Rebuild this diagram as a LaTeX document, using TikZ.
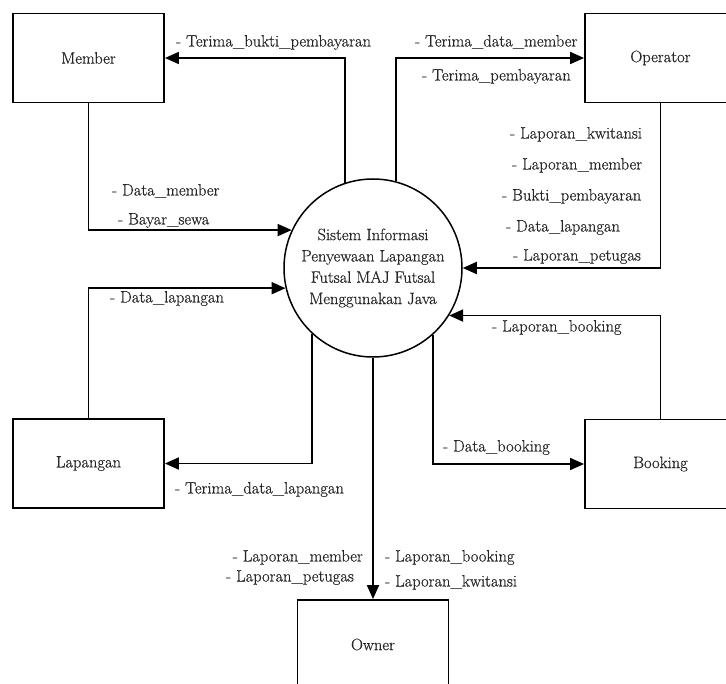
\documentclass[tikz,border=0pt]{standalone}
\usepackage{fontspec}
\newfontfamily\dfdfont{Latin Modern Roman}[FakeBold=0.6]
\usetikzlibrary{arrows.meta}

\begin{document}
\begin{tikzpicture}[x=1pt,y=-1pt,
  every node/.style={font=\dfdfont\fontsize{16.5}{21.3}\selectfont, text=black!85},
  entity/.style={draw, line width=1.8pt, minimum width=151pt, minimum height=89pt, inner sep=0pt},
  process/.style={draw, circle, line width=1.5pt, minimum size=178pt, inner sep=0pt, align=center},
  flow/.style={line width=1.8pt, -{Triangle[length=14pt,width=12pt]}},
  lbl/.style={anchor=west, inner sep=0pt, text height=11pt, text depth=4pt}]

% page frame
\useasboundingbox (0,0) rectangle (726,684);
\fill[white] (0,0) rectangle (726,684);
\clip (0,0) rectangle (726,684);

% central process
\node[process] (sys) at (373,268)
  {Sistem Informasi\\Penyewaan Lapangan\\Futsal MAJ Futsal\\Menggunakan Java};

% external entities
\node[entity] (member)   at (88.5,58)   {Member};
\node[entity] (operator) at (660.5,58)  {Operator};
\node[entity] (lapangan) at (88.5,463.5){Lapangan};
\node[entity] (booking)  at (660.5,464) {Booking};
\node[entity] (owner)    at (373,644.5) {Owner};

% data flows
\draw[flow] (sys.108.3) |- (member.east);
\draw[flow] (sys.75) |- (operator.west);
\draw[flow] (member.south) |- (sys.155.4);
\draw[flow] (operator.south) |- (sys.east);
\draw[flow] (lapangan.north) |- (sys.193.6);
\draw[flow] (sys.227.4) |- (lapangan.east);
\draw[flow] (booking.north) |- (sys.328.1);
\draw[flow] (sys.312.4) |- (booking.west);
\draw[flow] (sys.south) -- (owner.north);

% flow labels
\node[lbl] (t1)  at (176,43)  {- Terima\_bukti\_pembayaran};
\node[lbl] (t2)  at (112,192) {- Data\_member};
\node[lbl] (t3)  at (118,221) {- Bayar\_sewa};
\node[lbl] (t4)  at (415,43)  {- Terima\_data\_member};
\node[lbl] (t5)  at (422,77)  {- Terima\_pembayaran};
\node[lbl] (t6)  at (510,135) {- Laporan\_kwitansi};
\node[lbl] (t7)  at (512,166) {- Laporan\_member};
\node[lbl] (t8)  at (502,197) {- Bukti\_pembayaran};
\node[lbl] (t9)  at (506,228) {- Data\_lapangan};
\node[lbl] (t10) at (513,257) {- Laporan\_petugas};
\node[lbl] (t11) at (110,299) {- Data\_lapangan};
\node[lbl] (t12) at (175,490) {- Terima\_data\_lapangan};
\node[lbl] (t13) at (492,328) {- Laporan\_booking};
\node[lbl] (t14) at (443,448) {- Data\_booking};
\node[lbl, anchor=east] (t15) at (363,558) {- Laporan\_member};
\node[lbl] (t16) at (226,578) {- Laporan\_petugas};
\node[lbl] (t17) at (385,558) {- Laporan\_booking};
\node[lbl] (t18) at (385,583) {- Laporan\_kwitansi};
\end{tikzpicture}
\end{document}
